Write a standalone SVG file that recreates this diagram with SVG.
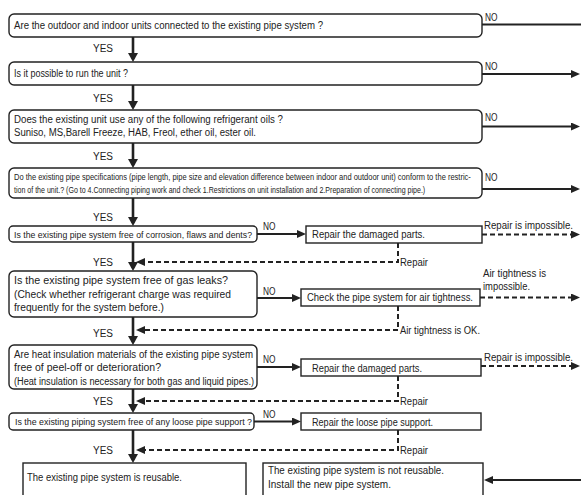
<svg xmlns="http://www.w3.org/2000/svg" width="581" height="495" viewBox="0 0 581 495">
<style>
.rb{fill:#fff;stroke:#222;stroke-width:1.4}
.t{font-family:"Liberation Sans",Arial,sans-serif;font-size:10px;fill:#222}
.s{font-size:8.2px}
.m{font-size:9px}
.l{font-size:10.3px}
.c{stroke:#222;stroke-width:2;fill:none}
.d{stroke-dasharray:5 3}
.k{stroke-width:2.6}
</style>
<defs>
<marker id="ah" viewBox="0 0 9 8" refX="6" refY="4" markerWidth="9" markerHeight="8" markerUnits="userSpaceOnUse" orient="auto"><path d="M0,0 L9,4 L0,8 z" fill="#222"/></marker>
<marker id="av" viewBox="0 0 9 10" refX="6" refY="5" markerWidth="9" markerHeight="10" markerUnits="userSpaceOnUse" orient="auto"><path d="M0,0 L9,5 L0,10 z" fill="#222"/></marker>
</defs>
<rect width="581" height="495" fill="#fff"/>

<g id="connectors">
<g class="c k" marker-end="url(#av)">
<line x1="133" y1="37" x2="133" y2="59"/>
<line x1="133" y1="85" x2="133" y2="107"/>
<line x1="133" y1="143" x2="133" y2="165"/>
<line x1="133" y1="198" x2="133" y2="223"/>
<line x1="133" y1="242" x2="133" y2="268"/>
<line x1="133" y1="317" x2="133" y2="342"/>
<line x1="133" y1="389" x2="133" y2="410"/>
<line x1="133" y1="430" x2="133" y2="460"/>
</g>
<line class="c" x1="482" y1="24.5" x2="581" y2="24.5"/>
<g class="c" marker-end="url(#ah)">
<line x1="482" y1="74" x2="577" y2="74"/>
<line x1="482" y1="126.5" x2="577" y2="126.5"/>
<line x1="482" y1="189" x2="577" y2="189"/>
<line x1="257" y1="234" x2="303" y2="234"/>
<line x1="257" y1="298" x2="298" y2="298"/>
<line x1="257" y1="367" x2="298" y2="367"/>
<line x1="254" y1="421.5" x2="298" y2="421.5"/>
<line x1="581" y1="480" x2="487" y2="480"/>
</g>
<g class="c d" marker-end="url(#ah)">
<line x1="482" y1="234.5" x2="577" y2="234.5"/>
<line x1="480" y1="297.5" x2="577" y2="297.5"/>
<line x1="481" y1="366" x2="577" y2="366"/>
<polyline points="398,243 398,262 139,262"/>
<polyline points="398,306 398,330 139,330"/>
<polyline points="398,376 398,401 139,401"/>
<polyline points="398,430 398,450 139,450"/>
</g>
<g class="t">
<text x="93" y="52" textLength="20" lengthAdjust="spacingAndGlyphs">YES</text>
<text x="93" y="102" textLength="20" lengthAdjust="spacingAndGlyphs">YES</text>
<text x="93" y="160" textLength="20" lengthAdjust="spacingAndGlyphs">YES</text>
<text x="93" y="221" textLength="20" lengthAdjust="spacingAndGlyphs">YES</text>
<text x="93" y="266" textLength="20" lengthAdjust="spacingAndGlyphs">YES</text>
<text x="93" y="337" textLength="20" lengthAdjust="spacingAndGlyphs">YES</text>
<text x="93" y="405" textLength="20" lengthAdjust="spacingAndGlyphs">YES</text>
<text x="93" y="454" textLength="20" lengthAdjust="spacingAndGlyphs">YES</text>
<text x="485" y="21" textLength="12.5" lengthAdjust="spacingAndGlyphs">NO</text>
<text x="485" y="70" textLength="12.5" lengthAdjust="spacingAndGlyphs">NO</text>
<text x="485" y="121" textLength="12.5" lengthAdjust="spacingAndGlyphs">NO</text>
<text x="485" y="181" textLength="12.5" lengthAdjust="spacingAndGlyphs">NO</text>
<text x="263" y="230" textLength="12.5" lengthAdjust="spacingAndGlyphs">NO</text>
<text x="263" y="295" textLength="12.5" lengthAdjust="spacingAndGlyphs">NO</text>
<text x="263" y="363" textLength="12.5" lengthAdjust="spacingAndGlyphs">NO</text>
<text x="263" y="418" textLength="12.5" lengthAdjust="spacingAndGlyphs">NO</text>
<text x="484" y="229" textLength="89" lengthAdjust="spacingAndGlyphs">Repair is impossible.</text>
<text x="484" y="361" textLength="89" lengthAdjust="spacingAndGlyphs">Repair is impossible.</text>
<text x="483" y="277" textLength="63" lengthAdjust="spacingAndGlyphs">Air tightness is</text>
<text x="483" y="290" textLength="47" lengthAdjust="spacingAndGlyphs">impossible.</text>
<text x="400" y="266" textLength="28" lengthAdjust="spacingAndGlyphs">Repair</text>
<text x="400" y="334" textLength="80" lengthAdjust="spacingAndGlyphs">Air tightness is OK.</text>
<text x="400" y="405" textLength="28" lengthAdjust="spacingAndGlyphs">Repair</text>
<text x="400" y="454" textLength="28" lengthAdjust="spacingAndGlyphs">Repair</text>
</g>
</g>

<g id="q1"><rect class="rb" x="9" y="14" width="473" height="23" rx="5"/>
<text class="t" x="14" y="29" textLength="309" lengthAdjust="spacingAndGlyphs">Are the outdoor and indoor units connected to the existing pipe system ?</text></g>
<g id="q2"><rect class="rb" x="9" y="62" width="473" height="23" rx="5"/>
<text class="t" x="14" y="77" textLength="114" lengthAdjust="spacingAndGlyphs">Is it possible to run the unit ?</text></g>
<g id="q3"><rect class="rb" x="9" y="110" width="473" height="33" rx="5"/>
<text class="t" x="14" y="123" textLength="269" lengthAdjust="spacingAndGlyphs">Does the existing unit use any of the following refrigerant oils ?</text>
<text class="t" x="14" y="136" textLength="242" lengthAdjust="spacingAndGlyphs">Suniso, MS,Barell Freeze, HAB, Freol, ether oil, ester oil.</text></g>
<g id="q4"><rect class="rb" x="9" y="168" width="473" height="30" rx="5"/>
<text class="t s" transform="translate(14 180) scale(0.8 1)" x="0" y="0" textLength="571" lengthAdjust="spacingAndGlyphs">Do the existing pipe specifications (pipe length, pipe size and elevation difference between indoor and outdoor unit) conform to the restric-</text>
<text class="t s" transform="translate(14 193) scale(0.8 1)" x="0" y="0" textLength="514" lengthAdjust="spacingAndGlyphs">tion of the unit.? (Go to 4.Connecting piping work and check 1.Restrictions on unit installation and 2.Preparation of connecting pipe.)</text></g>
<g id="q5"><rect class="rb" x="9" y="226" width="248" height="16" rx="4"/>
<text class="t m" x="14" y="237.5" textLength="238" lengthAdjust="spacingAndGlyphs">Is the existing pipe system free of corrosion, flaws and dents?</text></g>
<g id="r1"><rect class="rb" x="306" y="226" width="176" height="17"/>
<text class="t" x="312" y="238" textLength="113" lengthAdjust="spacingAndGlyphs">Repair the damaged parts.</text></g>
<g id="q6"><rect class="rb" x="9" y="271" width="248" height="46" rx="5"/>
<text class="t l" x="14" y="284" textLength="214" lengthAdjust="spacingAndGlyphs">Is the existing pipe system free of gas leaks?</text>
<text class="t l" x="14" y="297.5" textLength="217" lengthAdjust="spacingAndGlyphs">(Check whether refrigerant charge was required</text>
<text class="t l" x="14" y="311" textLength="150" lengthAdjust="spacingAndGlyphs">frequently for the system before.)</text></g>
<g id="r2"><rect class="rb" x="301" y="289" width="179" height="17"/>
<text class="t" x="307" y="301" textLength="166" lengthAdjust="spacingAndGlyphs">Check the pipe system for air tightness.</text></g>
<g id="q7"><rect class="rb" x="9" y="345" width="248" height="44" rx="5"/>
<text class="t" x="14" y="357.5" textLength="239" lengthAdjust="spacingAndGlyphs">Are heat insulation materials of the existing pipe system</text>
<text class="t" x="14" y="371" textLength="147" lengthAdjust="spacingAndGlyphs">free of peel-off or deterioration?</text>
<text class="t" x="14" y="384.5" textLength="240" lengthAdjust="spacingAndGlyphs">(Heat insulation is necessary for both gas and liquid pipes.)</text></g>
<g id="r3"><rect class="rb" x="301" y="359" width="180" height="17"/>
<text class="t" x="312" y="371.5" textLength="110" lengthAdjust="spacingAndGlyphs">Repair the damaged parts.</text></g>
<g id="q8"><rect class="rb" x="9" y="413" width="245" height="17" rx="4"/>
<text class="t m" x="15" y="425" textLength="237" lengthAdjust="spacingAndGlyphs">Is the existing piping system free of any loose pipe support ?</text></g>
<g id="r4"><rect class="rb" x="301" y="413" width="180" height="17"/>
<text class="t" x="312" y="425.5" textLength="121" lengthAdjust="spacingAndGlyphs">Repair the loose pipe support.</text></g>
<g id="ok"><rect class="rb" x="23" y="463" width="223" height="40"/>
<text class="t" x="27" y="481" textLength="155" lengthAdjust="spacingAndGlyphs">The existing pipe system is reusable.</text></g>
<g id="ng"><rect class="rb" x="263" y="463" width="220" height="40"/>
<text class="t" x="268" y="474" textLength="176" lengthAdjust="spacingAndGlyphs">The existing pipe system is not reusable.</text>
<text class="t" x="268" y="488" textLength="123" lengthAdjust="spacingAndGlyphs">Install the new pipe system.</text></g>
</svg>
